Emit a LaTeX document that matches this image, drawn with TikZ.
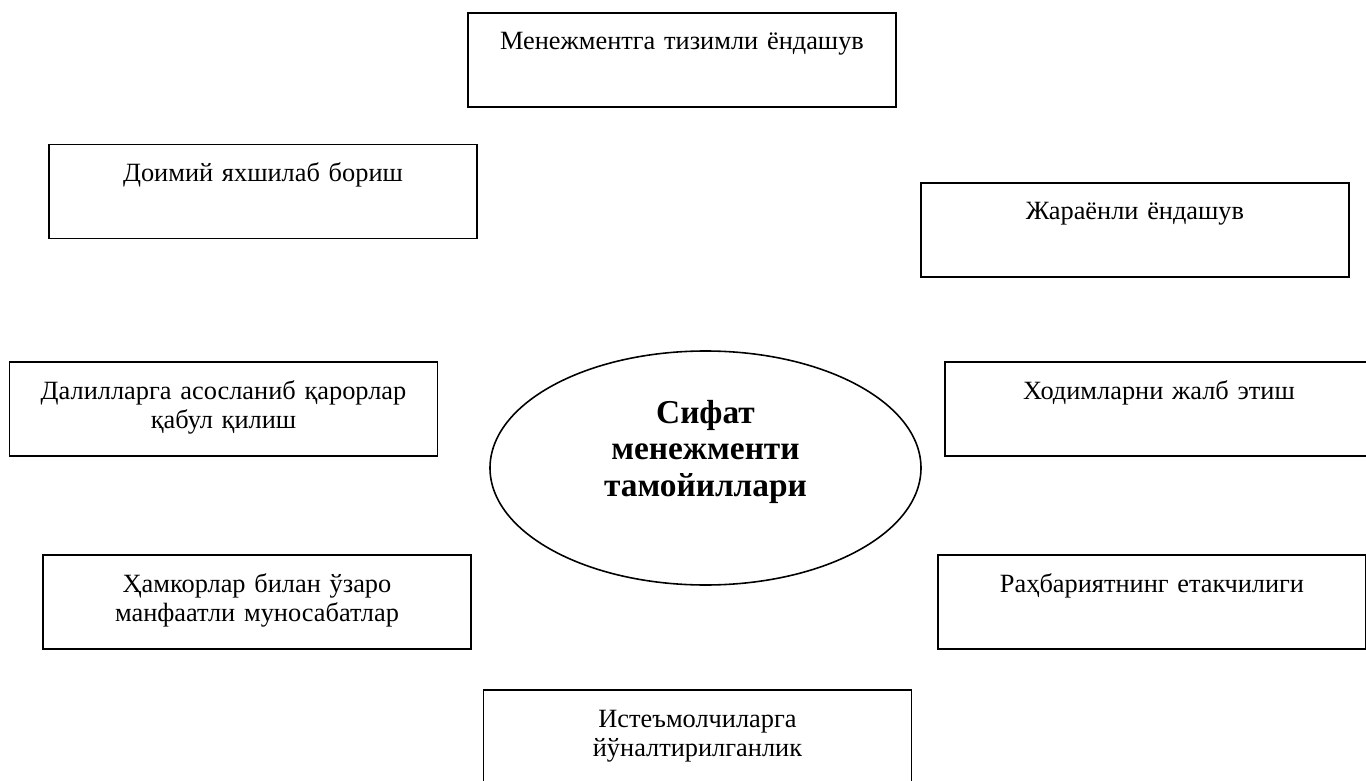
\documentclass[tikz,border=0pt]{standalone}
\usepackage{fontspec}
\setmainfont{Liberation Serif}
\usetikzlibrary{shapes.geometric,positioning}

\begin{document}
\begin{tikzpicture}[on grid, line width=0.9pt,
  principle/.style={draw, rectangle, inner sep=0pt, text width=8.56cm, align=center,
    text height=0.74cm, text depth=1.14cm, font=\fontsize{15}{17}\selectfont},
  core/.style={draw, ellipse, inner sep=0pt, minimum width=8.62cm, minimum height=4.68cm,
    text width=5cm, align=center, text height=0.5cm, text depth=2.3cm,
    font=\bfseries\fontsize{19}{21}\selectfont}]
\useasboundingbox (0,0) rectangle (27.32,-15.62);
   \node[core](sm) at (14.11,-9.36){Сифат\\менежменти\\тамойиллари};
   \node[principle](tizim)[above left=8.16cm and 0.47cm of sm]{Менежментга тизимли ёндашув};
   \node[principle](doimiy)[above left=5.53cm and 8.85cm of sm]{Доимий яхшилаб бориш};
   \node[principle](jarayon)[above right=4.76cm and 8.59cm of sm]{Жараёнли ёндашув};
   \node[principle](dalil)[above left=1.18cm and 9.64cm of sm]{Далилларга асосланиб қарорлар\\қабул қилиш};
   \node[principle](xodim)[above right=1.18cm and 9.07cm of sm]{Ходимларни жалб этиш};
   \node[principle](hamkor)[below left=2.68cm and 8.97cm of sm]{Ҳамкорлар билан ўзаро\\манфаатли муносабатлар};
   \node[principle](rahbar)[below right=2.68cm and 8.93cm of sm]{Раҳбариятнинг етакчилиги};
   \node[principle](istemol)[below left=5.38cm and 0.16cm of sm]{Истеъмолчиларга\\йўналтирилганлик};
\end{tikzpicture}
\end{document}
